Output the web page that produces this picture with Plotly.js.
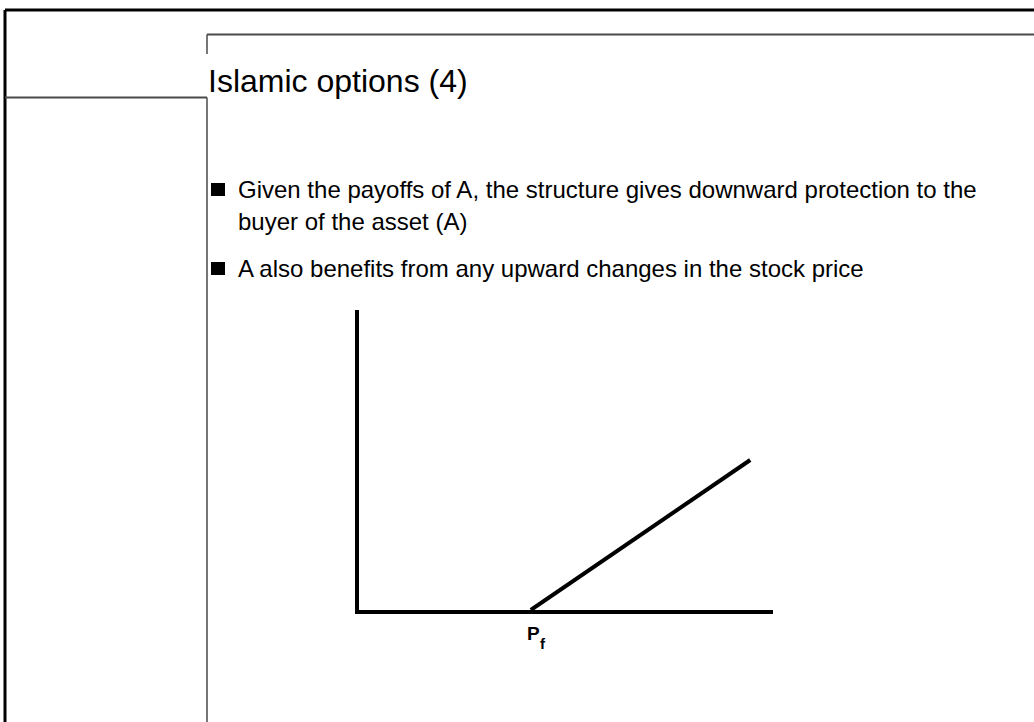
<!DOCTYPE html>
<html>
<head>
<meta charset="utf-8">
<script src="https://cdn.plot.ly/plotly-3.0.1.min.js"></script>
<style>
  html, body { margin: 0; padding: 0; background: #ffffff; }
  #chart { width: 1034px; height: 722px; }
</style>
</head>
<body>
<div id="chart"></div>
<script>
// Payoff of A above the protected price P_f (zero below it, along the price axis)
const priceLevels = [4.15, 9.45];
const payoffA = [0, 5.0];
const strikeValue = 4.15;
// strike label: main letter and its subscript
const strikeSymbol = 'P';
const strikeSubscript = 'f';

const slideTitle = 'Islamic options (4)';
const bulletLines = [
  'Given the payoffs of A, the structure gives downward protection to the',
  'buyer of the asset (A)',
  'A also benefits from any upward changes in the stock price'
];

const W = 1034, H = 722;
const px = x => x / W;            // pixel column -> paper x
const py = y => (H - y) / H;      // pixel row -> paper y
const FONT = 'Liberation Sans, Arial, sans-serif';

function line(x0, y0, x1, y1, color, width) {
  return {
    type: 'line', xref: 'paper', yref: 'paper',
    x0: px(x0), y0: py(y0), x1: px(x1), y1: py(y1),
    line: { color: color, width: width }
  };
}
function square(x0, y0, x1, y1) {
  return {
    type: 'rect', xref: 'paper', yref: 'paper',
    x0: px(x0), y0: py(y0), x1: px(x1), y1: py(y1),
    fillcolor: '#000000', line: { width: 0 }
  };
}
// text placed by its baseline row
function textAt(text, x, baseline, size) {
  return {
    xref: 'paper', yref: 'paper',
    x: px(x), y: py(baseline - 0.34 * size),
    xanchor: 'left', yanchor: 'middle',
    text: text,
    showarrow: false,
    font: { family: FONT, size: size, color: '#000000' },
    borderpad: 0
  };
}
// bold text hanging under the strike point on the price axis
function strikeText(text, size, dx, baselineBelow) {
  return {
    xref: 'x', yref: 'y', x: strikeValue, y: 0,
    xanchor: 'center', yanchor: 'middle',
    xshift: dx, yshift: -(baselineBelow - 0.34 * size),
    text: '<b>' + text + '</b>', showarrow: false,
    font: { family: FONT, size: size, color: '#000000' }, borderpad: 0
  };
}

const shapes = [
  // slide frame
  line(5, 10, W, 10, '#000000', 3),
  line(5, 10, 5, H, '#000000', 3),
  line(207, 34.5, W, 34.5, '#4a4a4a', 2),
  line(207, 34.5, 207, 54, '#4a4a4a', 1.5),
  line(5, 97.5, 207, 97.5, '#4a4a4a', 2),
  line(207, 97.5, 207, H, '#4a4a4a', 1.5),
  // bullet markers
  square(211, 183, 225, 196),
  square(211, 262, 225, 275)
];

const annotations = [
  textAt(slideTitle, 207, 92, 32),
  textAt(bulletLines[0], 237, 198, 24),
  textAt(bulletLines[1], 237, 230, 24),
  textAt(bulletLines[2], 237, 277, 24),
  strikeText(strikeSymbol, 19, 2.5, 30),
  strikeText(strikeSubscript, 15, 12.5, 39)
];

const trace = {
  x: priceLevels, y: payoffA,
  type: 'scatter', mode: 'lines',
  line: { color: '#000000', width: 4 },
  hoverinfo: 'skip'
};

const axisStyle = {
  showline: true, linecolor: '#000000', linewidth: 4,
  showgrid: false, zeroline: false, showticklabels: false, ticks: '',
  fixedrange: true
};

const layout = {
  width: W, height: H,
  margin: { l: 0, r: 0, t: 0, b: 0 },
  paper_bgcolor: '#ffffff', plot_bgcolor: 'rgba(0,0,0,0)',
  showlegend: false,
  xaxis: Object.assign({}, axisStyle, { range: [0, 10], domain: [px(359), px(773)] }),
  yaxis: Object.assign({}, axisStyle, { range: [0, 10], domain: [py(610), py(310)] }),
  shapes: shapes,
  annotations: annotations
};

Plotly.newPlot('chart', [trace], layout, { displayModeBar: false, staticPlot: true });
</script>
</body>
</html>
